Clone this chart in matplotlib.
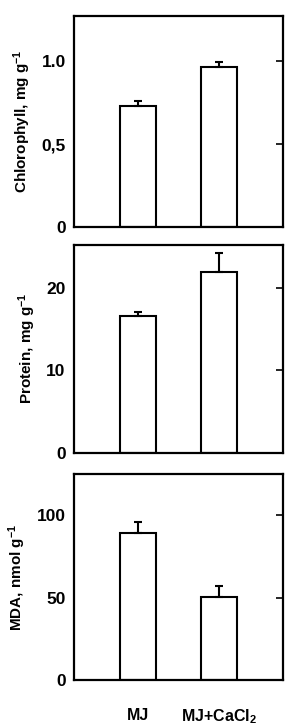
import matplotlib
matplotlib.use("Agg")
import matplotlib.pyplot as plt
import numpy as np

categories = ["MJ", "MJ+CaCl$_2$"]
chlorophyll = [0.73, 0.965]
chlorophyll_err = [0.03, 0.03]
protein = [16.6, 21.9]
protein_err = [0.5, 2.3]
mda = [89.2, 50.2]
mda_err = [6.8, 6.5]

plt.rcParams['font.family'] = ['Liberation Sans', 'DejaVu Sans']
plt.rcParams['font.weight'] = 'bold'
plt.rcParams['mathtext.fontset'] = 'custom'
plt.rcParams['mathtext.rm'] = 'Liberation Sans:bold'
plt.rcParams['mathtext.bf'] = 'Liberation Sans:bold'
plt.rcParams['mathtext.default'] = 'bf'

fig = plt.figure(figsize=(2.88, 7.28), dpi=100)

panels = [
    (chlorophyll, chlorophyll_err, (0, 1.27), [0, 0.5, 1.0], ["0", "0,5", "1.0"],
     "Chlorophyll, mg g$^{-1}$", [0.257, 0.688, 0.726, 0.290]),
    (protein, protein_err, (0, 25.2), [0, 10, 20], ["0", "10", "20"],
     "Protein, mg g$^{-1}$", [0.257, 0.378, 0.726, 0.286]),
    (mda, mda_err, (0, 125), [0, 50, 100], ["0", "50", "100"],
     "MDA, nmol g$^{-1}$", [0.257, 0.066, 0.726, 0.283]),
]

x = np.arange(len(categories))
for i, (vals, errs, ylim, ticks, tlabels, ylabel, pos) in enumerate(panels):
    ax = fig.add_axes(pos)
    ax.bar(x, vals, width=0.44, color='white', edgecolor='black', linewidth=1.5,
           yerr=[[0] * len(errs), errs], capsize=3,
           error_kw=dict(elinewidth=1.5, capthick=1.5, ecolor='black'))
    ax.set_xlim(-0.79, 1.79)
    ax.set_ylim(*ylim)
    ax.set_yticks(ticks)
    ax.set_yticklabels(tlabels, fontsize=12.5, fontweight='bold')
    ax.tick_params(axis='y', which='both', left=False, right=True, direction='in',
                   length=5, width=1.2, pad=6)
    ax.set_ylabel(ylabel, fontsize=11, fontweight='bold', labelpad=6)
    for s in ax.spines.values():
        s.set_linewidth(1.6)
    if i < 2:
        ax.set_xticks([])
    else:
        ax.set_xticks(x)
        ax.set_xticklabels(categories, fontsize=11.5, fontweight='bold')
        ax.tick_params(axis='x', length=0, pad=20)

fig.savefig("out.png", dpi=100)
